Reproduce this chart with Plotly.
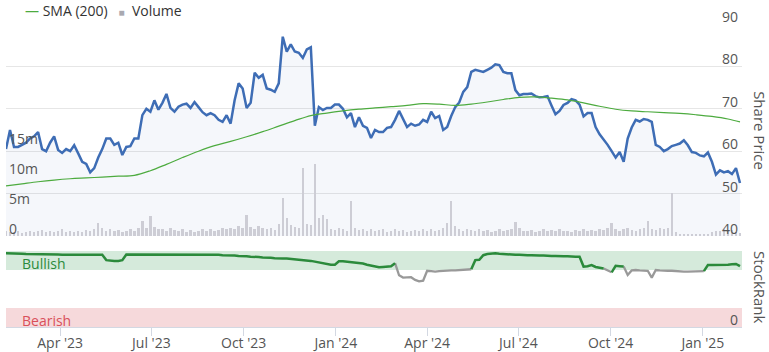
import plotly.graph_objects as go
import pandas as pd

# ---------------- data ----------------
dates = pd.date_range("2023-02-06", periods=184, freq="4D")

price = [
    60.5, 65, 61, 61, 61.5, 62, 63, 63.5, 64.5, 60.5,
    60, 62, 63.5, 60.3, 59.6, 60.5, 60, 61.4, 59.5, 57.5,
    57, 55, 56, 58.5, 60.5, 63, 63, 61.5, 62, 59.1,
    61, 61.2, 63, 63, 68.5, 70, 69.3, 72, 69.8, 71.4,
    73.5, 70.2, 69.3, 70.5, 71, 71.2, 70.2, 71.6, 70.4, 69.2,
    68.5, 69, 68.5, 67.4, 66.9, 68.5, 66.5, 72, 76, 74.8,
    70.2, 71.4, 78.5, 77.3, 78, 74.8, 74.5, 74, 76, 87,
    83.5, 85.2, 83.5, 83.2, 82, 84, 84.5, 66, 70.4, 69.7,
    70.2, 70.2, 71, 71, 70, 68, 69, 65.7, 68, 66,
    65.5, 63.1, 65, 64.5, 64.5, 65.5, 65.7, 67.4, 69.5, 67.4,
    65.7, 66.5, 66, 66.3, 67.4, 66.9, 69.3, 67.8, 68.3, 65,
    65.7, 68.3, 70.4, 71.5, 74, 75.1, 78.7, 79.2, 79, 78.7,
    79.2, 79.7, 80.5, 80.3, 78.7, 78.4, 78.4, 74.4, 73.2, 73.5,
    73.5, 73.6, 73, 72.7, 72.8, 73, 70.8, 68.7, 69.5, 70.9,
    71.4, 72.3, 72, 71, 68.2, 69, 69, 65.7, 64, 62.8,
    61.5, 60, 58.5, 59.8, 57.5, 63, 65.6, 67.4, 67, 67.6,
    67.4, 66.9, 61.5, 61, 60, 60.5, 61.2, 61.5, 61.8, 62.6,
    61.4, 59.8, 59.6, 59, 58.8, 59.7, 57.5, 54.5, 55.5, 55,
    55.3, 54.6, 56, 52.5,
]

volume_m = [
    0.9, 0.6, 0.7, 0.8, 0.5, 0.7, 0.9, 0.6, 0.8, 1.0,
    0.7, 0.9, 0.6, 0.8, 1.1, 0.7, 0.9, 0.6, 0.8, 0.7,
    1.0, 0.8, 1.2, 2.2, 1.3, 0.9, 1.1, 0.8, 1.0, 0.7,
    0.9, 1.2, 0.8, 1.4, 2.5, 1.3, 3.3, 1.5, 1.1, 1.2,
    0.9, 1.3, 1.0, 0.8, 1.1, 0.7, 1.0, 0.6, 0.8, 1.1,
    0.8, 1.2, 0.9, 1.0, 1.3, 1.1, 1.4, 1.2, 1.6, 1.3,
    3.5, 1.5, 1.2, 1.7, 1.4, 1.1, 1.3, 1.0, 2.0, 6.3,
    3.0, 1.8, 1.5, 1.3, 11.3, 2.0, 1.8, 12.0, 3.0, 3.5,
    2.8, 1.2, 1.0, 1.4, 1.1, 0.9, 5.8, 1.3, 1.0, 1.2,
    0.9, 1.1, 0.8, 1.0, 1.2, 0.7, 0.9, 1.1, 0.8, 1.0,
    0.7, 0.9, 1.0, 0.8, 1.1, 0.9, 1.2, 0.8, 1.0, 1.3,
    2.2, 5.8, 1.6, 1.2, 0.9, 1.1, 1.0, 0.8, 1.2, 0.9,
    1.0, 0.7, 0.9, 1.1, 0.8, 1.0, 1.2, 2.3, 1.3, 0.9,
    0.8, 1.0, 0.7, 0.9, 1.1, 0.8, 1.0, 0.9, 1.2, 0.8,
    0.9, 0.7, 1.0, 0.8, 1.1, 0.9, 1.0, 0.8, 1.2, 1.0,
    1.3, 2.2, 1.1, 0.9, 1.2, 1.4, 1.0, 0.9, 1.1, 1.3,
    2.5, 1.2, 1.0, 1.3, 1.1, 1.4, 7.2, 0.6, 0.4, 0.3,
    0.2, 0.3, 0.2, 0.3, 0.2, 0.4, 0.6, 0.8, 0.9, 1.1,
    0.8, 1.0, 0.7, 0.5,
]

stockrank = [
    97, 97, 97, 97, 96.5, 96, 96, 96, 96, 96,
    96, 96, 95.5, 95.5, 95, 95, 95, 95, 95, 95,
    95, 95, 95, 95, 95, 88, 87, 87, 87, 88,
    95.5, 95.5, 95.5, 95.5, 95.5, 95.5, 95.5, 95.5, 95.5, 95.5,
    95.5, 95.5, 95.5, 95.5, 95.5, 95, 95, 95, 95, 95,
    95, 95, 95, 95, 94.5, 94.5, 94, 94, 93.5, 93.5,
    93, 92.5, 92.5, 92, 91.5, 91.5, 91, 90.5, 90, 90,
    90, 89.5, 89, 89, 88, 87.5, 87, 86, 85, 83.5,
    82.5, 82, 82, 86.5, 86.5, 86, 85.5, 85, 84.5, 83.5,
    82, 80.5, 79, 78.5, 79, 79.5, 80, 84, 68, 65,
    65.5, 65.5, 62, 60, 61, 74, 73.5, 73, 73.5, 74,
    74, 74.5, 74.5, 75, 75, 75.5, 76, 88, 88.5, 94.5,
    96, 97, 97, 96.5, 96, 95.5, 95, 95, 95, 94.5,
    94.5, 94.5, 94, 94, 94, 93.5, 93.5, 93.5, 93, 93,
    93, 92.5, 92.5, 92.5, 79.5, 80, 81.5, 79, 77.5, 77,
    74.5, 72, 80.5, 80, 79.5, 68.5, 74.5, 75, 74.5, 74.5,
    74, 65, 75, 74.5, 74, 74, 74, 73.5, 73.5, 73,
    73, 73, 73, 73, 73.5, 81.5, 81.5, 81.5, 82, 82,
    82, 82.5, 83, 80,
]

sma_dates = list(dates[::4]) + [dates[-1]]
sma = [
    51.8, 52.3, 52.8, 53.2, 53.5, 53.7, 53.9, 54.1, 54.3, 55.4,
    56.9, 58.5, 60.0, 61.3, 62.3, 63.4, 64.6, 65.9, 67.2, 68.4,
    69.0, 69.5, 69.9, 70.2, 70.5, 70.8, 71.2, 71.1, 70.8, 71.1,
    71.6, 72.2, 72.7, 72.8, 72.5, 72.1, 71.4, 70.6, 69.9, 69.5,
    69.3, 69.1, 68.9, 68.6, 68.2, 67.6, 66.9,
]

price_ticks = [40, 50, 60, 70, 80, 90]
volume_ticks = [0, 5, 10, 15]
volume_ticktext = ["0", "5m", "10m", "15m"]
bullish_threshold = 76.5

assert len(price) == len(dates) == len(volume_m) == len(stockrank)
assert len(sma) == len(sma_dates)

FONT = "Open Sans"
TXT = "#555555"

fig = go.Figure()

# volume bars
fig.add_trace(go.Bar(
    x=dates, y=volume_m, yaxis="y3", xaxis="x",
    marker=dict(color="#cdcdd5", line_width=0),
    width=2.4 * 86400000, showlegend=False, hoverinfo="skip",
))

# share price area
fig.add_trace(go.Scatter(
    x=dates, y=price, yaxis="y", xaxis="x", mode="lines",
    line=dict(color="#3e6db5", width=2.5),
    fill="tozeroy", fillcolor="rgba(70,105,190,0.055)",
    showlegend=False,
))

# SMA 200
fig.add_trace(go.Scatter(
    x=sma_dates, y=sma, yaxis="y", xaxis="x", mode="lines",
    line=dict(color="#4dab3f", width=1.2, shape="spline"),
    showlegend=False,
))

# StockRank line coloured by zone
runs = {"g": ([], []), "k": ([], [])}
last = {"g": None, "k": None}
for i in range(len(stockrank) - 1):
    c = "g" if stockrank[i + 1] >= bullish_threshold else "k"
    xs, ys = runs[c]
    if last[c] != i:
        if xs:
            xs.append(None); ys.append(None)
        xs.append(dates[i]); ys.append(stockrank[i])
    xs.append(dates[i + 1]); ys.append(stockrank[i + 1])
    last[c] = i + 1

fig.add_trace(go.Scatter(
    x=runs["k"][0], y=runs["k"][1], yaxis="y2", xaxis="x", mode="lines",
    line=dict(color="#999999", width=2.3), showlegend=False,
))
fig.add_trace(go.Scatter(
    x=runs["g"][0], y=runs["g"][1], yaxis="y2", xaxis="x", mode="lines",
    line=dict(color="#2b8a3b", width=2.5), showlegend=False,
))

# zone bands
fig.add_shape(type="rect", xref="x domain", yref="y2", x0=0, x1=1, y0=75, y1=100,
              fillcolor="#d5eadb", line_width=0, layer="below")
fig.add_shape(type="rect", xref="x domain", yref="y2", x0=0, x1=1, y0=0, y1=25,
              fillcolor="#f6d9db", line_width=0, layer="below")

fig.add_annotation(text="Bullish", xref="x domain", yref="y2", x=0.019, y=84,
                   xanchor="left", yanchor="middle", showarrow=False,
                   font=dict(family=FONT, size=14, color="#2b8a3b"))
fig.add_annotation(text="Bearish", xref="x domain", yref="y2", x=0.019, y=9,
                   xanchor="left", yanchor="middle", showarrow=False,
                   font=dict(family=FONT, size=14, color="#d9505a"))

# axis titles on the right
fig.add_annotation(text="Share Price", xref="paper", yref="paper", x=1, y=0.602,
                   xshift=18, textangle=90, showarrow=False,
                   xanchor="center", yanchor="middle",
                   font=dict(family=FONT, size=15, color=TXT))
fig.add_annotation(text="StockRank", xref="paper", yref="paper", x=1, y=0.122,
                   xshift=18, textangle=90, showarrow=False,
                   xanchor="center", yanchor="middle",
                   font=dict(family=FONT, size=15, color=TXT))

# legend
fig.add_annotation(
    text="<span style='color:#4dab3f'>—</span> SMA (200)&nbsp;&nbsp;&nbsp;"
         "<span style='color:#a9a9b0;font-size:10px'>■</span>&nbsp; Volume",
    xref="paper", yref="paper", x=0.0235, y=1.0, xanchor="left", yanchor="top",
    yshift=1,
    showarrow=False, font=dict(family=FONT, size=14, color="#333333"))

tickfont = dict(family=FONT, size=14, color=TXT)

fig.update_layout(
    width=769, height=352,
    margin=dict(l=6, r=27, t=0, b=25),
    paper_bgcolor="white", plot_bgcolor="white",
    font=dict(family=FONT, color=TXT),
    bargap=0,
    xaxis=dict(
        domain=[0, 1], anchor="y2", type="date",
        range=["2023-02-06", "2025-02-09"],
        tick0="2023-01-01", dtick="M3", tickformat="%b '%y",
        ticks="outside", ticklen=8, tickcolor="#d3d8e2",
        ticklabelstandoff=-5,
        showline=True, linecolor="#d3d8e2", linewidth=1,
        showgrid=False, zeroline=False, tickfont=tickfont,
        automargin=False,
    ),
    yaxis=dict(
        domain=[0.2783, 0.9266], anchor="x", side="right",
        range=[40, 90], tickvals=price_ticks,
        ticklabelposition="inside", ticklabelshift=-7, ticklabelstandoff=1,
        ticklabeloverflow="allow", automargin=False,
        gridcolor="#e6e6e6", gridwidth=1, zeroline=False, showline=False,
        tickfont=tickfont,
    ),
    yaxis3=dict(
        overlaying="y", anchor="x", side="left",
        range=[0, 35.33], tickvals=volume_ticks, ticktext=volume_ticktext,
        ticklabelposition="inside", ticklabelshift=-7, ticklabelstandoff=0,
        ticklabeloverflow="allow", automargin=False,
        showgrid=False, zeroline=False, showline=False,
        tickfont=tickfont,
    ),
    yaxis2=dict(
        domain=[0, 0.2324], anchor="x", side="right",
        range=[0, 100], tickvals=[0, 100], ticktext=["0", ""],
        ticklabelposition="inside", ticklabelshift=-7, ticklabelstandoff=1,
        ticklabeloverflow="allow", automargin=False,
        gridcolor="#e6e6e6", zeroline=False, showline=False,
        tickfont=tickfont,
    ),
)

fig.write_html("out.html")
